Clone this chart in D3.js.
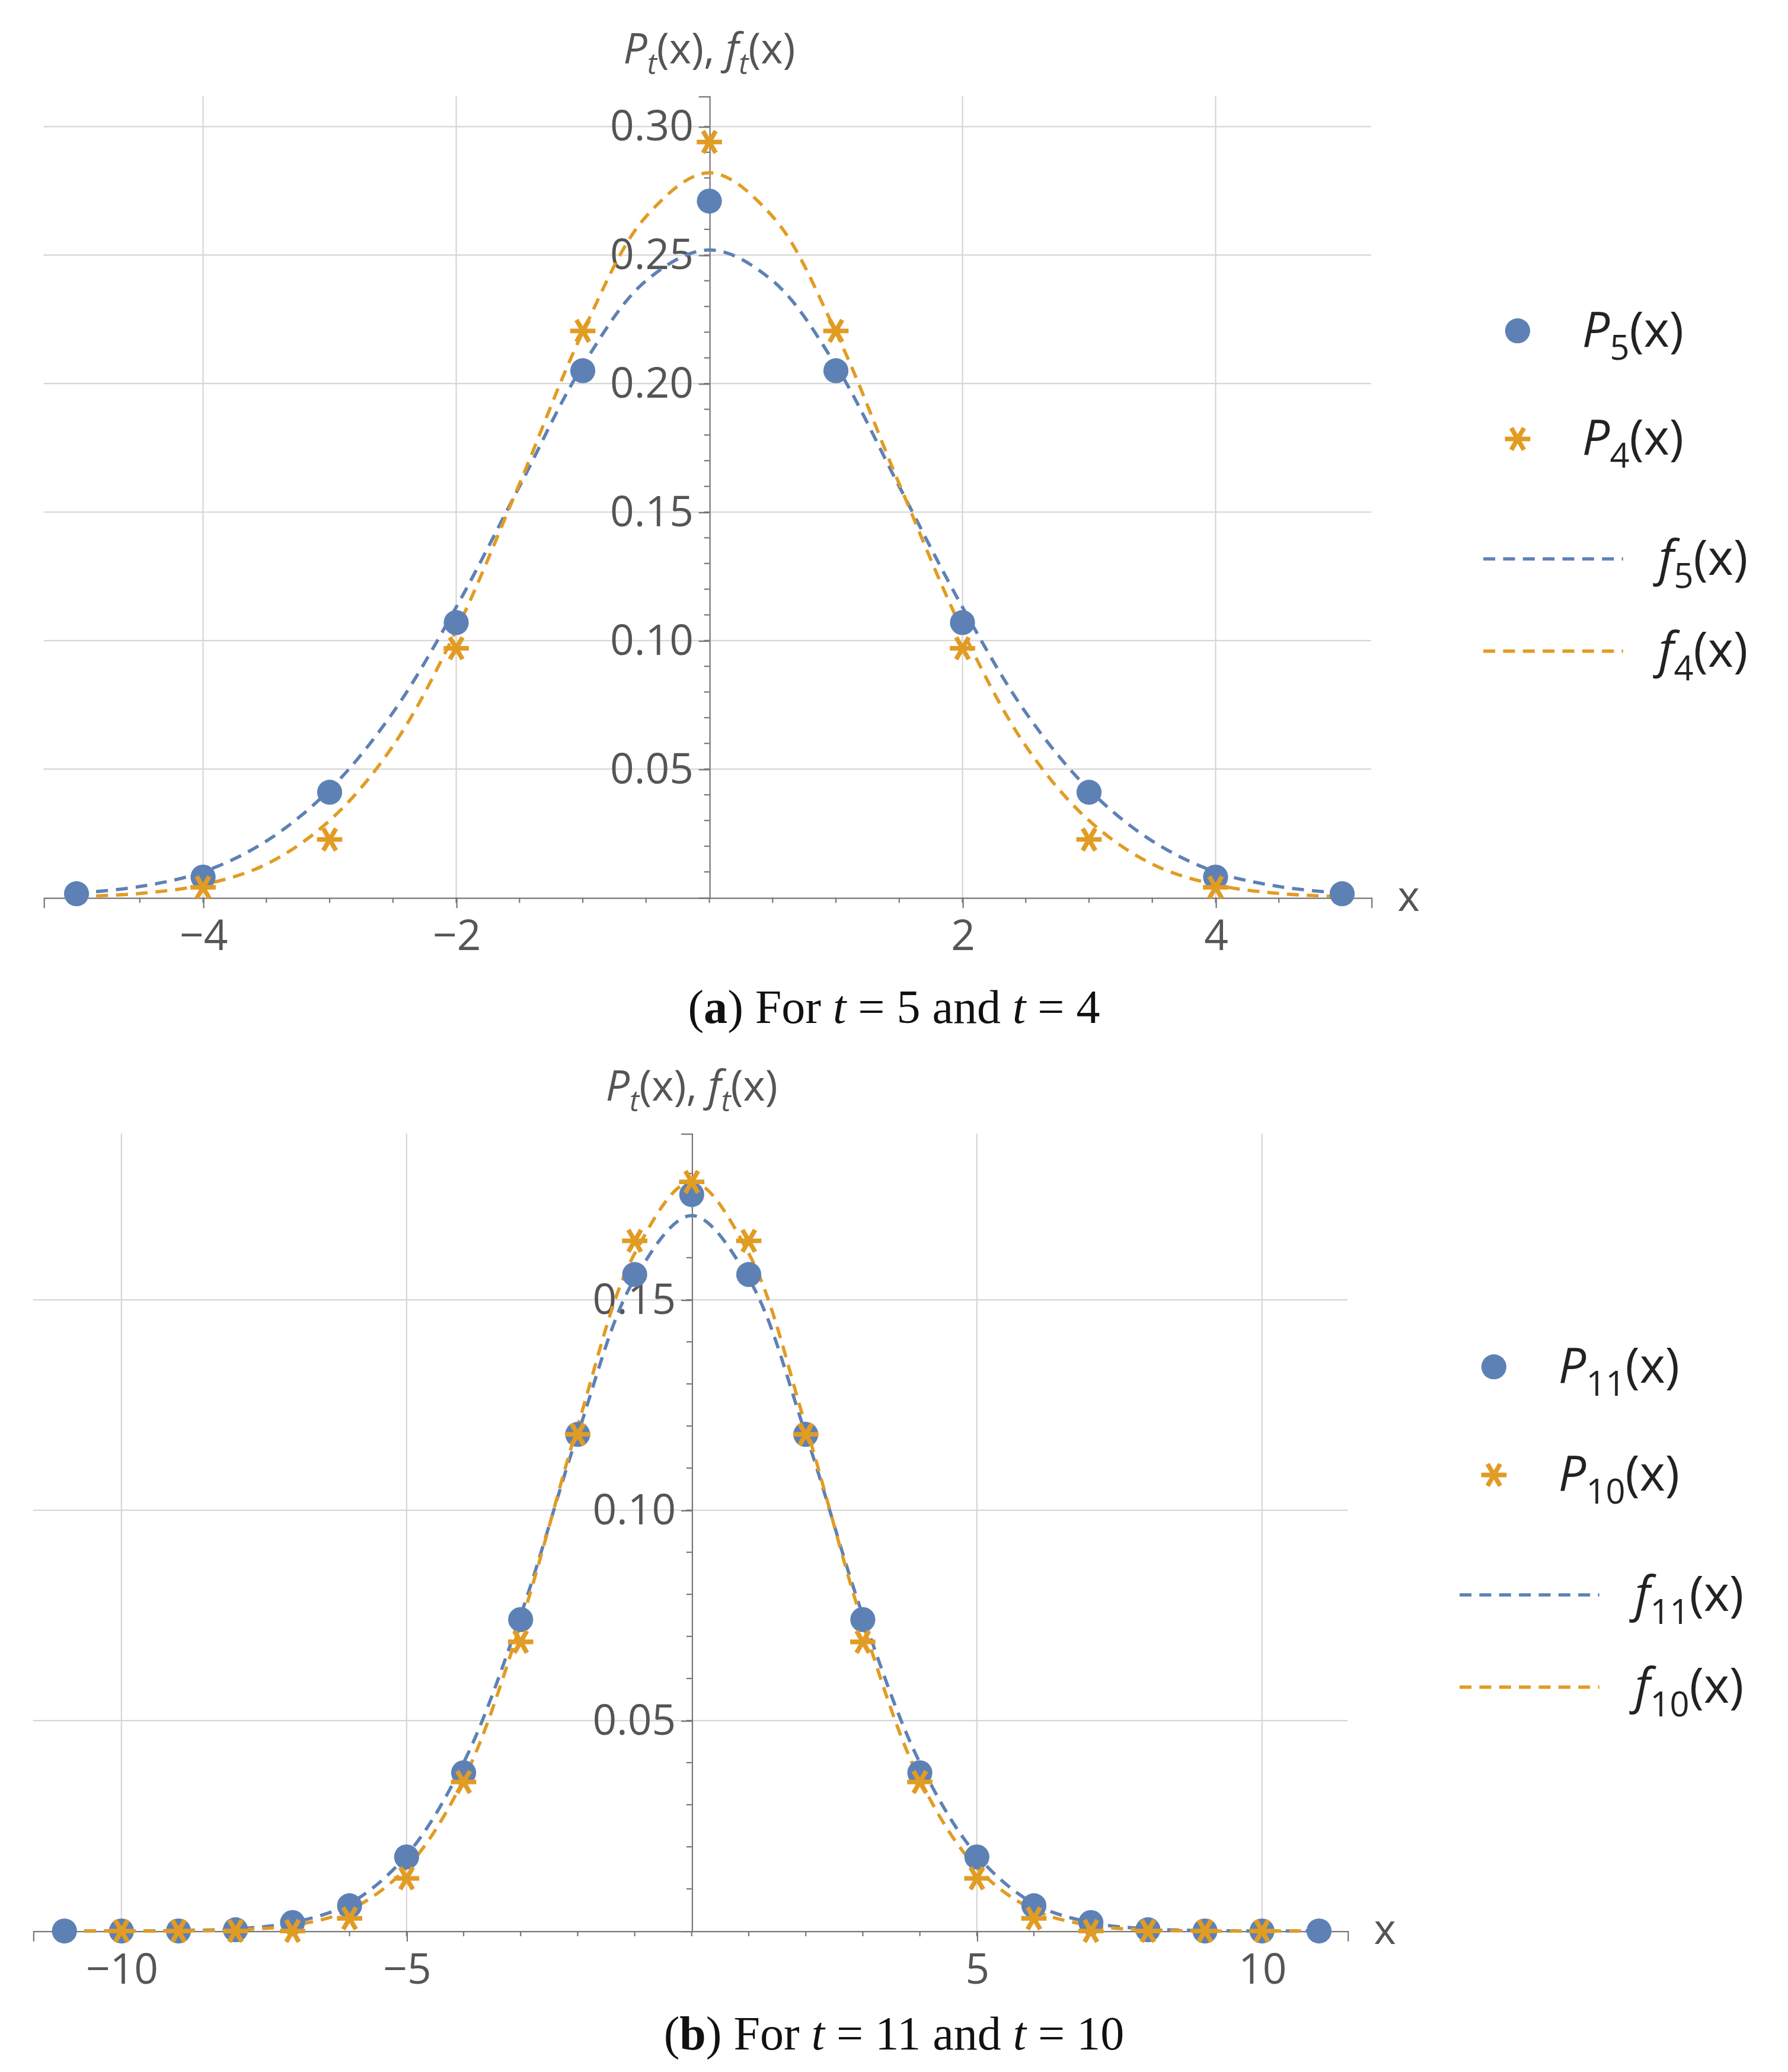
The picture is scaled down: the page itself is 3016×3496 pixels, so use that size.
<!DOCTYPE html>
<html><head><meta charset="utf-8">
<script src="https://cdn.jsdelivr.net/npm/d3@7"></script>
<style>body{margin:0;background:#fff}</style>
</head><body>
<svg id="c" width="3016" height="3496" viewBox="0 0 1356 1572"></svg>
<script>
// panel (a) data
const xA = [-5,-4,-3,-2,-1,0,1,2,3,4,5];
const p5 = [0.0015,0.008,0.041,0.107,0.205,0.271,0.205,0.107,0.041,0.008,0.0015];
const p4 = [null,0.004,0.0226,0.097,0.2205,0.294,0.2205,0.097,0.0226,0.004,null];
const fxA = [-5,-4.5,-4,-3.5,-3,-2.5,-2,-1.5,-1,-0.5,0,0.5,1,1.5,2,2.5,3,3.5,4,4.5,5];
const f5 = [0.0017,0.0043,0.010,0.022,0.042,0.072,0.113,0.160,0.207,0.240,0.252,0.240,0.207,0.160,0.113,0.072,0.042,0.022,0.010,0.0043,0.0017];
const f4 = [0.0004,0.0016,0.005,0.013,0.030,0.059,0.104,0.161,0.220,0.265,0.282,0.265,0.220,0.161,0.104,0.059,0.030,0.013,0.005,0.0016,0.0004];
const xTicksA = [-4,-2,2,4];
const yTicksA = [0.05,0.10,0.15,0.20,0.25,0.30];

// panel (b) data
const xB = [-11,-10,-9,-8,-7,-6,-5,-4,-3,-2,-1,0,1,2,3,4,5,6,7,8,9,10,11];
const p11 = [0,0,0,0.0003,0.002,0.006,0.0176,0.0376,0.074,0.118,0.156,0.175,0.156,0.118,0.074,0.0376,0.0176,0.006,0.002,0.0003,0,0,0];
const p10 = [null,0,0,0,0,0.003,0.0125,0.0354,0.0687,0.118,0.164,0.178,0.164,0.118,0.0687,0.0354,0.0125,0.003,0,0,0,0,null];
const fxB = [-11,-10,-9,-8,-7,-6,-5,-4,-3,-2,-1,0,1,2,3,4,5,6,7,8,9,10,11];
const f11 = [0,0,0.0001,0.0005,0.002,0.0065,0.018,0.040,0.075,0.118,0.155,0.170,0.155,0.118,0.075,0.040,0.018,0.0065,0.002,0.0005,0.0001,0,0];
const f10 = [0,0,0,0.0003,0.0013,0.005,0.015,0.036,0.073,0.120,0.161,0.178,0.161,0.120,0.073,0.036,0.015,0.005,0.0013,0.0003,0,0,0];
const xTicksB = [-10,-5,5,10];
const yTicksB = [0.05,0.10,0.15];

const BLUE = "#5E81B5", ORANGE = "#E19C24", GRAY = "#777";
const svg = d3.select("#c");

function panel(o) {
  const x = d3.scaleLinear().domain(o.xd).range([o.left, o.right]);
  const y = d3.scaleLinear().domain(o.yd).range([o.bottom, o.top]);
  const g = svg.append("g");
  // grid
  g.selectAll(".gx").data(o.xTicks).join("line")
    .attr("x1", d => x(d)).attr("x2", d => x(d)).attr("y1", o.top).attr("y2", o.bottom)
    .attr("stroke", "#d6d6d6").attr("stroke-width", 1);
  g.selectAll(".gy").data(o.yTicks).join("line")
    .attr("y1", d => y(d)).attr("y2", d => y(d)).attr("x1", o.left).attr("x2", o.right)
    .attr("stroke", "#d6d6d6").attr("stroke-width", 1);
  // axes
  g.append("g").attr("transform", `translate(0,${y(0)})`)
    .call(d3.axisBottom(x).tickValues(o.xTicks).tickSize(8).tickFormat(d => d < 0 ? "\u2212" + (-d) : d))
    .call(a => a.select(".domain").attr("stroke", GRAY))
    .call(a => a.selectAll(".tick line").attr("stroke", GRAY))
    .call(a => a.selectAll("text").attr("font-size", 32).attr("fill", "#555").attr("dy", "0.9em").attr("font-family", "Open Sans, sans-serif"));
  g.selectAll(".mx").data(o.xMinor).join("line")
    .attr("x1", d => x(d)).attr("x2", d => x(d)).attr("y1", y(0)).attr("y2", y(0) + 4).attr("stroke", GRAY);
  g.append("g").attr("transform", `translate(${x(0)},0)`)
    .call(d3.axisLeft(y).tickValues(o.yTicks).tickSize(8).tickFormat(d3.format(".2f")))
    .call(a => a.select(".domain").attr("stroke", GRAY))
    .call(a => a.selectAll(".tick line").attr("stroke", GRAY))
    .call(a => a.selectAll("text").attr("font-size", 32).attr("fill", "#555").attr("x", -12).attr("font-family", "Open Sans, sans-serif"));
  g.selectAll(".my").data(o.yMinor).join("line")
    .attr("x1", x(0)).attr("x2", x(0) - 4).attr("y1", d => y(d)).attr("y2", d => y(d)).attr("stroke", GRAY);
  g.append("text").attr("x", o.right + 20).attr("y", y(0) + 10).attr("font-size", 32).attr("fill", "#555")
    .attr("font-family", "Open Sans, sans-serif").text("x");
  const yl = g.append("text").attr("x", x(0)).attr("y", o.top - 25).attr("text-anchor", "middle")
    .attr("font-size", 32).attr("fill", "#555").attr("font-family", "Open Sans, sans-serif");
  yl.append("tspan").attr("font-style", "italic").text("P");
  yl.append("tspan").attr("font-style", "italic").attr("font-size", 22).attr("dy", 8).text("t");
  yl.append("tspan").attr("dy", -8).text("(x), ");
  yl.append("tspan").attr("font-style", "italic").text("f");
  yl.append("tspan").attr("font-style", "italic").attr("font-size", 22).attr("dy", 8).text("t");
  yl.append("tspan").attr("dy", -8).text("(x)");

  const line = d3.line().x((d, i) => x(o.fx[i])).y(d => y(d)).curve(d3.curveCatmullRom);
  [[o.fb, BLUE], [o.fo, ORANGE]].forEach(([arr, col]) =>
    g.append("path").attr("d", line(arr)).attr("fill", "none").attr("stroke", col)
      .attr("stroke-width", 2.5).attr("stroke-dasharray", "9,6"));
  const pts = o.px.map((v, i) => ({x: v, b: o.pb[i], o: o.po[i]}));
  g.selectAll(".pb").data(pts.filter(d => d.b != null)).join("circle")
    .attr("cx", d => x(d.x)).attr("cy", d => y(d.b)).attr("r", 9.5).attr("fill", BLUE);
  const star = d3.symbol().type(d3.symbolAsterisk).size(260);
  g.selectAll(".po").data(pts.filter(d => d.o != null)).join("path")
    .attr("d", star).attr("transform", d => `translate(${x(d.x)},${y(d.o)}) rotate(90)`)
    .attr("fill", "none").attr("stroke", ORANGE).attr("stroke-width", 3.5);

  // legend
  const lx = o.legX, ly = o.legY;
  const lab = (yy, letter, sub, tx) => {
    const t = g.append("text").attr("x", tx).attr("y", yy + 12).attr("font-size", 37).attr("fill", "#222")
      .attr("font-family", "Open Sans, sans-serif");
    t.append("tspan").attr("font-style", "italic").text(letter);
    t.append("tspan").attr("font-size", 26).attr("dy", 10).text(sub);
    t.append("tspan").attr("dy", -10).text("(x)");
  };
  g.append("circle").attr("cx", lx + 26).attr("cy", ly).attr("r", 9.5).attr("fill", BLUE);
  lab(ly, "P", o.tb, lx + 75);
  g.append("path").attr("d", star).attr("transform", `translate(${lx + 26},${ly + 82}) rotate(90)`)
    .attr("fill", "none").attr("stroke", ORANGE).attr("stroke-width", 3.5);
  lab(ly + 82, "P", o.to, lx + 75);
  [[ly + 173, BLUE, o.tb], [ly + 243, ORANGE, o.to]].forEach(([yy, col, s]) => {
    g.append("line").attr("x1", lx).attr("x2", lx + 106).attr("y1", yy).attr("y2", yy)
      .attr("stroke", col).attr("stroke-width", 2.5).attr("stroke-dasharray", "9,6");
    lab(yy, "f", s, lx + 133);
  });
  // caption
  const cap = svg.append("text").attr("x", 678).attr("y", o.capY).attr("text-anchor", "middle")
    .attr("font-size", 36).attr("font-family", "Liberation Serif, DejaVu Serif, serif").attr("fill", "#111");
  cap.append("tspan").text("(");
  cap.append("tspan").attr("font-weight", "bold").text(o.capL);
  cap.append("tspan").text(") For ");
  cap.append("tspan").attr("font-style", "italic").text("t");
  cap.append("tspan").text(" = " + o.tb + " and ");
  cap.append("tspan").attr("font-style", "italic").text("t");
  cap.append("tspan").text(" = " + o.to);
}

panel({xd: [-5.26, 5.23], yd: [0, 0.3118], left: 33, right: 1040, top: 73, bottom: 681,
  xTicks: xTicksA, yTicks: yTicksA, xMinor: d3.range(-5, 5.01, 0.5), yMinor: d3.range(0.01, 0.31, 0.01),
  fx: fxA, fb: f5, fo: f4, px: xA, pb: p5, po: p4, tb: "5", to: "4",
  legX: 1125, legY: 251, capY: 776, capL: "a"});
panel({xd: [-11.55, 11.5], yd: [0, 0.1895], left: 25, right: 1022, top: 860, bottom: 1465,
  xTicks: xTicksB, yTicks: yTicksB, xMinor: d3.range(-11, 11.01, 1), yMinor: d3.range(0.01, 0.19, 0.01),
  fx: fxB, fb: f11, fo: f10, px: xB, pb: p11, po: p10, tb: "11", to: "10",
  legX: 1107, legY: 1037, capY: 1555, capL: "b"});
</script>
</body></html>
